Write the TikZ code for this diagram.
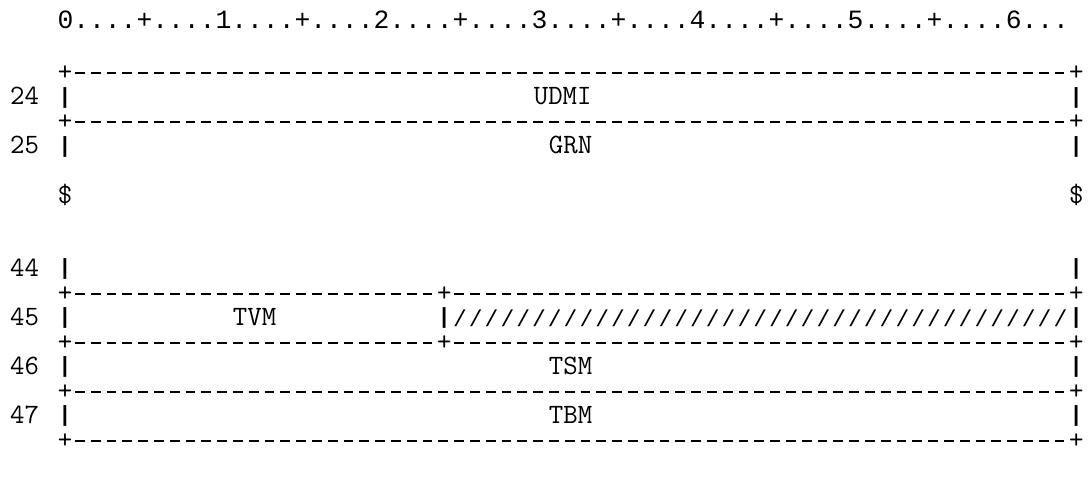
\documentclass[tikz,border=0pt]{standalone}
\usepackage{fontspec}
\newfontfamily\rulefont{Liberation Mono}
\usepackage{tikz}

\begin{document}
\begin{tikzpicture}[
  x=7.9pt, y=-12.25pt,
  ruler/.style={anchor=base west, inner sep=0pt, font=\rulefont\fontsize{13.17}{15}\selectfont},
  txt/.style={anchor=base, inner sep=0pt, font=\ttfamily\fontsize{14}{16}\selectfont},
  num/.style={txt, anchor=base west},
  corner/.style={inner sep=0pt, yshift=3.6pt, font=\ttfamily\fontsize{14}{16}\selectfont},
  bar/.style={inner sep=0pt, yshift=3.6pt, font=\rulefont\bfseries\fontsize{11}{13}\selectfont},
  hatch/.style={inner sep=0pt, yshift=3.6pt, font=\rulefont\fontsize{11.5}{13}\selectfont},
  border/.style={line width=0.9pt, dash pattern=on 4.9pt off 3pt, dash phase=6.7pt}
]
\useasboundingbox (-3.614,-1.2857) rectangle (65.31,18.837);
% ruler
\node[ruler] (ruler) at (0,-0.12) {0....+....1....+....2....+....3....+....4....+....5....+....6...};
% borders
\node[corner] (pl2) at (0.5,2) {+};   \node[corner] (pr2) at (64.5,2) {+};
\node[corner] (pl4) at (0.5,4) {+};   \node[corner] (pr4) at (64.5,4) {+};
\node[corner] (pl11) at (0.5,11) {+}; \node[corner] (pm11) at (24.5,11) {+}; \node[corner] (pr11) at (64.5,11) {+};
\node[corner] (pl13) at (0.5,13) {+}; \node[corner] (pm13) at (24.5,13) {+}; \node[corner] (pr13) at (64.5,13) {+};
\node[corner] (pl15) at (0.5,15) {+}; \node[corner] (pr15) at (64.5,15) {+};
\node[corner] (pl17) at (0.5,17) {+}; \node[corner] (pr17) at (64.5,17) {+};
\draw[border] (pl2) -- (pr2);
\draw[border] (pl4) -- (pr4);
\draw[border] (pl11) -- (pm11);
\draw[border] (pm11) -- (pr11);
\draw[border] (pl13) -- (pm13);
\draw[border] (pm13) -- (pr13);
\draw[border] (pl15) -- (pr15);
\draw[border] (pl17) -- (pr17);
% row numbers
\node[num] (n24) at (-3,3) {24};
\node[num] (n25) at (-3,5) {25};
\node[num] (n44) at (-3,10) {44};
\node[num] (n45) at (-3,12) {45};
\node[num] (n46) at (-3,14) {46};
\node[num] (n47) at (-3,16) {47};
% sides
\foreach \k in {3,5,10,12,14,16} {
  \node[bar] (vl\k) at (0.5,\k) {|};
  \node[bar] (vr\k) at (64.5,\k) {|};
}
\node[txt] (cutl) at (0.5,7) {\$};
\node[txt] (cutr) at (64.5,7) {\$};
% fields
\node[txt] (udmi) at (32,3) {UDMI};
\node[txt] (grn) at (32.5,5) {GRN};
\node[txt] (tvm) at (12.5,12) {TVM};
\node[bar] (vm12) at (24.5,12) {|};
\foreach \c in {25,...,63}
  \node[hatch] (h\c) at (\c+0.5,12) {/};
\node[txt] (tsm) at (32.5,14) {TSM};
\node[txt] (tbm) at (32.5,16) {TBM};
\end{tikzpicture}
\end{document}
